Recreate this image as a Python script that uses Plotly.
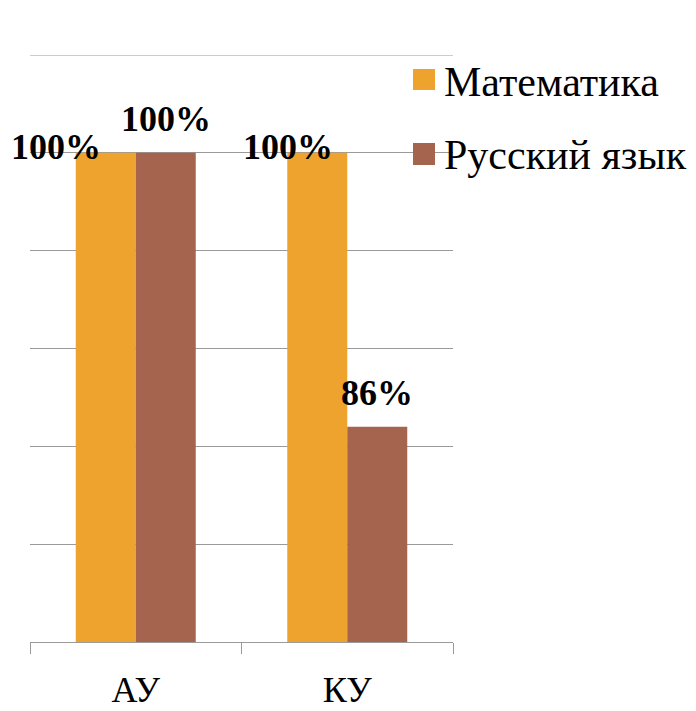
import plotly.graph_objects as go

categories = ["АУ", "КУ"]
series_names = ["Математика", "Русский язык"]
math_values = [100, 100]
rus_values = [100, 86]
colors = ["#EEA32F", "#A5644E"]

OFF = 8  # page body margin
W, H = 696 - OFF, 711 - OFF
PX0, PX1, PY0, PY1 = 30, 453, 55, 642  # plot area in screen pixels
L, R = PX0 - OFF, W - (PX1 - OFF)
T, B = PY0 - OFF, H - (PY1 - OFF)
pw, ph = PX1 - PX0, PY1 - PY0

def px_x(p):
    return (p - PX0) / pw

def px_y(p):
    return (PY1 - p) / ph

fig = go.Figure()
for name, vals, col in zip(series_names, [math_values, rus_values], colors):
    fig.add_trace(go.Bar(x=categories, y=vals, name=name, marker_color=col,
                         marker_line_width=0, showlegend=False))

# data labels
serif = "Liberation Serif, Times New Roman, serif"
label_font = dict(family=serif, size=36, color="black", weight="bold")
math_label_shift = [-50, -29]
for i, c in enumerate(categories):
    fig.add_annotation(x=c, y=math_values[i], xref="x", yref="y",
                       text=f"<b>{math_values[i]}%</b>", showarrow=False,
                       xshift=-30 + math_label_shift[i], yshift=6,
                       yanchor="middle", font=label_font)
    fig.add_annotation(x=c, y=rus_values[i], xref="x", yref="y",
                       text=f"<b>{rus_values[i]}%</b>", showarrow=False,
                       xshift=30, yshift=12,
                       yanchor="bottom", font=label_font)

# top gridline
fig.add_shape(type="line", xref="x domain", yref="y", x0=0, x1=1, y0=105, y1=105,
              line=dict(color="#9a9a9a", width=1), layer="below")

# manual legend
leg_rows = [(69, 90, 82), (143, 165, 155)]
for (y0, y1, yc), name, col in zip(leg_rows, series_names, colors):
    fig.add_shape(type="rect", xref="paper", yref="paper",
                  x0=px_x(413), x1=px_x(435), y0=px_y(y1), y1=px_y(y0),
                  fillcolor=col, line_width=0, layer="above")
    fig.add_annotation(xref="paper", yref="paper", x=px_x(442), y=px_y(yc),
                       text=name, showarrow=False, xanchor="left", yanchor="middle",
                       font=dict(family=serif, size=42, color="black"))

fig.update_layout(
    width=W, height=H,
    margin=dict(l=L, r=R, t=T, b=B, autoexpand=False),
    paper_bgcolor="white", plot_bgcolor="white",
    barmode="group", bargap=0.4326, bargroupgap=0,
    showlegend=False,
    font=dict(family=serif),
)
fig.update_yaxes(range=[75, 105], dtick=5, showticklabels=False,
                 showgrid=True, gridcolor="#9a9a9a", gridwidth=1,
                 zeroline=False, showline=False, ticks="", automargin=False)
fig.update_xaxes(range=[-0.5, len(categories) - 0.5],
                 showline=True, linecolor="#9a9a9a", linewidth=1,
                 ticks="outside", tickson="boundaries", ticklen=11,
                 tickcolor="#9a9a9a", tickwidth=1,
                 tickfont=dict(family=serif, size=36, color="black"),
                 ticklabelstandoff=16, automargin=False)

fig.write_html("out.html")
